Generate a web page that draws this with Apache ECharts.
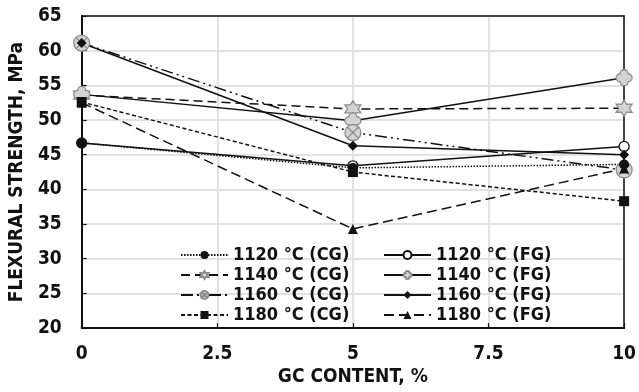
<!DOCTYPE html>
<html>
<head>
<meta charset="utf-8">
<script src="https://cdn.jsdelivr.net/npm/echarts@6/dist/echarts.min.js"></script>
<style>
html,body{margin:0;padding:0;background:#fff;}
#chart{width:639px;height:392px;}
</style>
</head>
<body>
<div id="chart"></div>
<script>
// GC content (%) on x axis
const gcContent = [0, 5, 10];
// Flexural strength (MPa)
const s1120CG = [46.7, 43.1, 43.6];
const s1120FG = [46.7, 43.4, 46.2];
const s1140CG = [53.6, 51.6, 51.7];
const s1140FG = [53.7, 49.9, 56.1];
const s1160CG = [61.1, 48.2, 42.8];
const s1160FG = [61.1, 46.3, 45.0];
const s1180CG = [52.6, 42.5, 38.3];
const s1180FG = [52.5, 34.3, 43.0];

const namesCG = ['1120 °C (CG)', '1140 °C (CG)', '1160 °C (CG)', '1180 °C (CG)'];
const namesFG = ['1120 °C (FG)', '1140 °C (FG)', '1160 °C (FG)', '1180 °C (FG)'];

const starPath = 'path://M0,-100 L29,-50 L87,-50 L58,0 L87,50 L29,50 L0,100 L-29,50 L-87,50 L-58,0 L-87,-50 L-29,-50 Z';
const flowerPath = 'path://M-30,-30 A30,30 0 1 1 30,-30 A30,30 0 1 1 30,30 A30,30 0 1 1 -30,30 A30,30 0 1 1 -30,-30 Z';
const circleXPath = 'path://M100,0 A100,100 0 1 1 -100,0 A100,100 0 1 1 100,0 Z M-70,-70 L70,70 M70,-70 L-70,70';

function pts(vals){ return gcContent.map((x,i)=>[x, vals[i]]); }

const FONT = 'DejaVu Sans Condensed';
const grayItem = {color:'#d4d4d4', borderColor:'#8c8c8c', borderWidth:1.3};

function mk(name, vals, lineType, symbol, size, itemStyle){
  return {
    name, type:'line', data: pts(vals), symbol, symbolSize:size,
    lineStyle:{color:'#111', width:1.5, type:lineType},
    itemStyle: itemStyle,
    emphasis:{disabled:true}, animation:false, z:2
  };
}

// drawing order (bottom to top)
const series = [
  mk(namesFG[0], s1120FG, 'solid', 'circle', 10, {color:'#fff', borderColor:'#111', borderWidth:1.3}),
  mk(namesCG[1], s1140CG, [9,5], starPath, 16, grayItem),
  mk(namesFG[1], s1140FG, 'solid', flowerPath, 16, grayItem),
  mk(namesCG[2], s1160CG, [12,4,2,4,2,4], circleXPath, 16, grayItem),
  mk(namesFG[2], s1160FG, 'solid', 'diamond', 10, {color:'#111'}),
  mk(namesCG[0], s1120CG, [1.5,1.5], 'circle', 10, {color:'#111'}),
  mk(namesCG[3], s1180CG, [4,2.5], 'rect', 10, {color:'#111'}),
  mk(namesFG[3], s1180FG, [10,5], 'triangle', 10, {color:'#111'})
];

const legendBase = {
  orient:'vertical', itemWidth:47, itemHeight:10, itemGap:2,
  textStyle:{fontFamily:FONT, fontWeight:'bold', fontSize:18, color:'#111', lineHeight:18},
  selectedMode:false, padding:0
};

const axisFont = {fontFamily:FONT, fontWeight:'bold', fontSize:19, color:'#111'};

const chart = echarts.init(document.getElementById('chart'), null, {renderer:'canvas'});
chart.setOption({
  backgroundColor:'#fff',
  animation:false,
  grid:{left:79, right:14, top:16, bottom:59},
  legend:[
    Object.assign({}, legendBase, {left:180, top:246, data:namesCG}),
    Object.assign({}, legendBase, {left:383, top:246, data:namesFG})
  ],
  xAxis:[{
    type:'value', min:0, max:10, interval:2.5,
    name:'GC CONTENT, %', nameLocation:'middle', nameGap:35,
    nameTextStyle:axisFont,
    axisLine:{lineStyle:{color:'#111', width:2}},
    axisTick:{inside:true, length:5, lineStyle:{color:'#111', width:1.2}},
    axisLabel:Object.assign({margin:16}, axisFont),
    splitLine:{show:true, lineStyle:{color:'#e2e2e2', width:2}}
  },{
    type:'value', min:0, max:10, interval:2.5, position:'top',
    axisLine:{show:true, onZero:false, lineStyle:{color:'#111', width:1.5}},
    axisTick:{show:false}, axisLabel:{show:false}, splitLine:{show:false}
  }],
  yAxis:[{
    type:'value', min:20, max:65, interval:5,
    name:'FLEXURAL STRENGTH, MPa', nameLocation:'middle', nameGap:52,
    nameTextStyle:axisFont,
    axisLine:{show:true, lineStyle:{color:'#111', width:2}},
    axisTick:{show:true, inside:true, length:5, lineStyle:{color:'#111', width:1.2}},
    axisLabel:Object.assign({margin:20}, axisFont),
    splitLine:{show:true, lineStyle:{color:'#e2e2e2', width:2}}
  },{
    type:'value', min:20, max:65, interval:5, position:'right',
    axisLine:{show:true, onZero:false, lineStyle:{color:'#111', width:1.5}},
    axisTick:{show:false}, axisLabel:{show:false}, splitLine:{show:false}
  }],
  series: series
});
</script>
</body>
</html>
